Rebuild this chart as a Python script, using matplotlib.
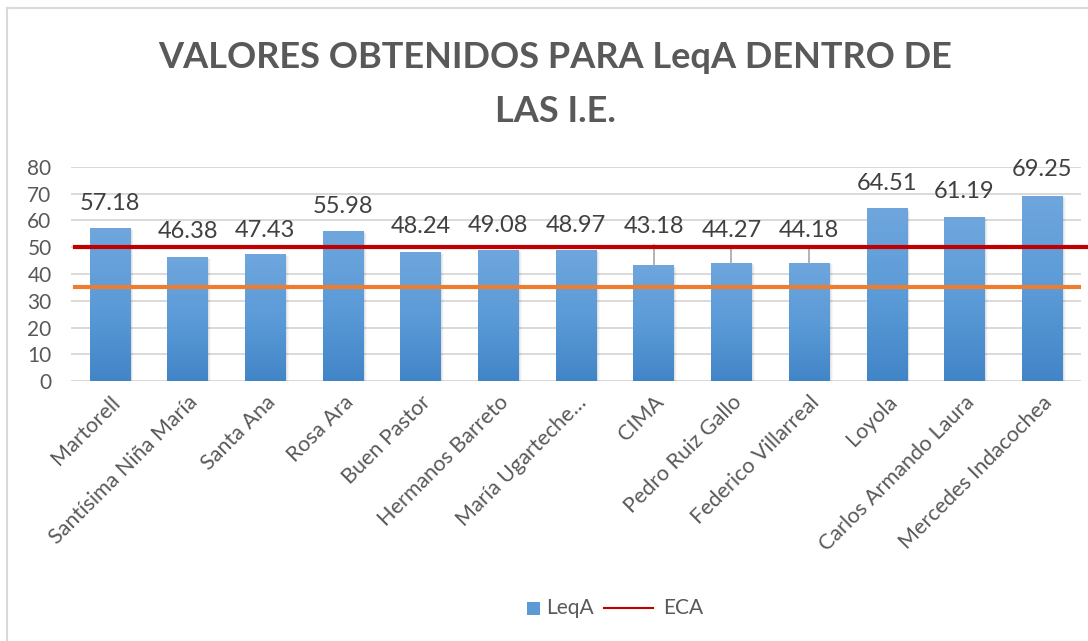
import matplotlib
matplotlib.use("Agg")
import matplotlib.pyplot as plt
import numpy as np
from matplotlib.patches import Rectangle
from matplotlib.lines import Line2D
from matplotlib.colors import LinearSegmentedColormap

plt.rcParams['font.family'] = ['Lato', 'DejaVu Sans']

categories = ["Martorell", "Santísima Niña María", "Santa Ana", "Rosa Ara", "Buen Pastor",
              "Hermanos Barreto", "María Ugarteche…", "CIMA", "Pedro Ruiz Gallo",
              "Federico Villarreal", "Loyola", "Carlos Armando Laura", "Mercedes Indacochea"]
leqa = [57.18, 46.38, 47.43, 55.98, 48.24, 49.08, 48.97, 43.18, 44.27, 44.18, 64.51, 61.19, 69.25]
eca = 50
eca_low = 35
# data-label centre heights (moved labels have leader lines)
label_y = [66.5, 55.9, 56.2, 65.2, 57.7, 58.3, 58.3, 57.6, 56.4, 56.4, 74.0, 70.7, 78.9]
leader_top = [None, None, None, None, None, None, None, 50.8, 50.4, 50.4, None, None, None]
yticks = [0, 10, 20, 30, 40, 50, 60, 70, 80]

W, H = 1088, 641
fig = plt.figure(figsize=(W / 100, H / 100), dpi=100)
ax = fig.add_axes([71 / W, 1 - 381 / H, (1081 - 71) / W, (381 - 167) / H])

text_col = '#595959'
x = np.arange(len(categories))
bw = 0.52
ax.set_xlim(-0.5, len(categories) - 0.5)
ax.set_ylim(0, 80)

for y in yticks:
    ax.axhline(y, color='#D9D9D9', lw=1.4, zorder=0)

# bars with vertical gradient + soft shadow
grad = np.linspace(0, 1, 256).reshape(-1, 1)
cmap = LinearSegmentedColormap.from_list('g', ['#4285C7', '#5B9BD8', '#6FA6DD'])
for xi, v in zip(x, leqa):
    for k, a in enumerate([0.06, 0.04, 0.025]):
        sh = Rectangle((xi - bw / 2 + 0.02 + 0.012 * k, 0), bw, v - 0.4 - 0.2 * k,
                       facecolor='black', alpha=a, lw=0, zorder=1)
        ax.add_patch(sh)
    r = Rectangle((xi - bw / 2, 0), bw, v, facecolor='#5B9BD5', lw=0, zorder=2)
    ax.add_patch(r)
    im = ax.imshow(grad, extent=(xi - bw / 2, xi + bw / 2, 0, v), origin='lower',
                   cmap=cmap, aspect='auto', zorder=2.1)
    im.set_clip_path(r)

# leader lines
for xi, v, lt in zip(x, leqa, leader_top):
    if lt is not None:
        ax.plot([xi, xi], [v, lt], color='#A6A6A6', lw=1.2, zorder=2.5)

# ECA lines
ax.axhline(eca_low, xmin=0.004, xmax=1.0, color='#ED7D31', lw=3, zorder=3)
ax.axhline(eca, xmin=0.004, xmax=1.007, color='#C00000', lw=3, zorder=3, clip_on=False)

# data labels
for xi, v, ly in zip(x, leqa, label_y):
    ax.text(xi, ly, f"{v:.2f}", ha='center', va='center', fontsize=17, color='#404040', zorder=4)

ax.set_aspect('auto')
ax.set_yticks(yticks)
ax.set_yticklabels([str(t) for t in yticks], fontsize=15, color=text_col)
ax.set_xticks(x)
ax.set_xticklabels(categories, rotation=45, ha='right', va='top', rotation_mode='anchor',
                   fontsize=15.5, color=text_col)
ax.tick_params(axis='both', length=0)
ax.tick_params(axis='y', pad=14)
ax.tick_params(axis='x', pad=8)
for s in ax.spines.values():
    s.set_visible(False)

fig.text(555 / W, 1 - 57 / H, "VALORES OBTENIDOS PARA LeqA DENTRO DE", ha='center', va='center',
         fontsize=26, fontweight='bold', color=text_col)
fig.text(555 / W, 1 - 111 / H, "LAS I.E.", ha='center', va='center',
         fontsize=26, fontweight='bold', color=text_col)

# legend drawn manually for exact spacing
ly_leg = 1 - 608 / H
fig.add_artist(Rectangle((527 / W, 1 - 615 / H), 13 / W, 13 / H, facecolor='#5B9BD5',
                         edgecolor='none', transform=fig.transFigure))
fig.text(546 / W, ly_leg, "LeqA", ha='left', va='center', fontsize=15, color=text_col)
fig.add_artist(Line2D([604 / W, 653 / W], [ly_leg, ly_leg], color='#C00000', lw=1.5))
fig.text(663 / W, ly_leg, "ECA", ha='left', va='center', fontsize=15, color=text_col)

# chart border (partially visible)
fig.add_artist(Line2D([7 / W, 7 / W], [0, 1 - 8 / H], color='#D9D9D9', lw=1.5))
fig.add_artist(Line2D([7 / W, 1], [1 - 8 / H, 1 - 8 / H], color='#D9D9D9', lw=1.5))

fig.savefig('out.png', dpi=100)
